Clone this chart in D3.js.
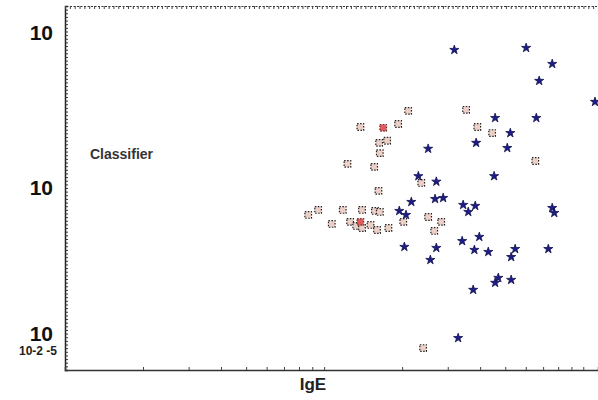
<!DOCTYPE html>
<html>
<head>
<meta charset="utf-8">
<script src="https://cdn.jsdelivr.net/npm/d3@7"></script>
<style>
    body { margin: 0; background: #fff; }
    text { font-family: 'Liberation Sans', Arial, sans-serif; }
</style>
</head>
<body>
<div id="chart"></div>
<script>
// blue class (IgE, classifier value)
const blueX = [31.8, 60.2, 75.9, 67.6, 65.9, 45.7, 52.3, 50.9, 38.6, 25.2, 45.3, 27.1, 23.1, 111,
    21.7, 26.8, 28.8, 19.5, 20.7, 34.4, 36.0, 38.3, 75.9, 77.3, 20.4, 27.1, 25.7, 34.1, 39.7,
    38.0, 43.0, 54.6, 52.7, 73.3, 47.0, 45.7, 52.7, 37.6, 32.9];
const blueY = [7.70, 7.94, 6.21, 4.79, 2.71, 2.71, 2.15, 1.71, 1.85, 1.69, 1.11, 1.02, 1.11, 3.47,
    0.747, 0.782, 0.794, 0.651, 0.612, 0.714, 0.641, 0.703, 0.681, 0.631, 0.375, 0.369, 0.307, 0.410, 0.437,
    0.358, 0.347, 0.363, 0.321, 0.363, 0.233, 0.216, 0.226, 0.194, 0.0926];

// pink class
const pinkX = [21.1, 35.3, 13.8, 19.3, 16.3, 17.5, 16.4, 12.3, 15.6, 39.0, 44.5, 65.3, 23.7, 16.2,
    8.68, 9.48, 10.7, 11.8, 12.6, 14.0, 13.3, 14.0, 15.1, 15.7, 16.4, 16.0, 17.7, 20.2, 25.2,
    28.3, 26.6, 24.1];
const pinkY = [3.02, 3.07, 2.36, 2.47, 1.85, 1.91, 1.58, 1.34, 1.28, 2.36, 2.15, 1.40, 1.0, 0.885,
    0.612, 0.661, 0.533, 0.661, 0.550, 0.661, 0.517, 0.501, 0.525, 0.651, 0.641, 0.486, 0.501, 0.550, 0.593,
    0.550, 0.479, 0.0794];

// highlighted (red) points
const redX = [16.9, 13.8];
const redY = [2.33, 0.550];

const yTickValues = [10, 1, 0.1];
const yTickLabels = ['10', '10', '10'];
const yExtraLabel = '10-2 -5';
const xTitle = 'IgE';
const noteText = 'Classifier';

const width = 598;
const height = 400;
const margin = { top: 6, right: 0, bottom: 30, left: 65 };

const svg = d3
    .select('#chart')
    .append('svg')
    .attr('width', width)
    .attr('height', height);

const x = d3
    .scaleLog()
    .domain([1, 114])
    .range([margin.left, width - margin.right]);

const y = d3
    .scaleLog()
    .domain([15.1, 0.0567])
    .range([margin.top, height - margin.bottom]);

// left axis: dense little ticks
const yDeco = d3.scaleLinear().domain([0, 100]).range([margin.top, height - margin.bottom]);
svg.append('g')
    .attr('transform', `translate(${margin.left},0)`)
    .call(d3.axisRight(yDeco).ticks(100).tickSize(3).tickFormat(''))
    .call((g) => g.select('.domain').attr('stroke', '#222').attr('stroke-width', 1.5))
    .call((g) => g.selectAll('.tick line').attr('stroke', '#333'));

// top border: dotted with small down ticks
const xDeco = d3.scaleLinear().domain([0, 110]).range([margin.left, width]);
svg.append('g')
    .attr('transform', `translate(0,${margin.top})`)
    .call(d3.axisBottom(xDeco).ticks(110).tickSize(3).tickFormat(''))
    .call((g) => g.select('.domain').attr('stroke', '#333').attr('stroke-dasharray', '2,1.5'))
    .call((g) => g.selectAll('.tick line').attr('stroke', '#444'));

// bottom axis
svg.append('g')
    .attr('transform', `translate(0,${height - margin.bottom})`)
    .call(d3.axisTop(x).tickSize(3).tickFormat(''))
    .call((g) => g.select('.domain').attr('stroke', '#333').attr('stroke-width', 1.5))
    .call((g) => g.selectAll('.tick line').attr('stroke', '#444'));

// y labels (middle one sits a bit low in the original)
svg.selectAll('text.ylab')
    .data(yTickValues)
    .enter()
    .append('text')
    .attr('class', 'ylab')
    .attr('x', 53)
    .attr('y', (d) => y(d) + (d === 1 ? 5 : 0))
    .attr('dy', '0.36em')
    .attr('text-anchor', 'end')
    .attr('font-size', 21)
    .attr('font-weight', 'bold')
    .attr('fill', '#111')
    .text((d, i) => yTickLabels[i]);

svg.append('text')
    .attr('x', 57)
    .attr('y', 355)
    .attr('text-anchor', 'end')
    .attr('font-size', 12)
    .attr('font-weight', 'bold')
    .attr('fill', '#222')
    .text(yExtraLabel);

svg.append('text')
    .attr('x', 90)
    .attr('y', 159)
    .attr('font-size', 14)
    .attr('font-weight', 'bold')
    .attr('fill', '#333')
    .text(noteText);

svg.append('text')
    .attr('x', 313)
    .attr('y', 390)
    .attr('text-anchor', 'middle')
    .attr('font-size', 17)
    .attr('font-weight', 'bold')
    .attr('fill', '#222')
    .text(xTitle);

// points
const pink = pinkX.map((v, i) => ({ x: v, y: pinkY[i] }));
const blue = blueX.map((v, i) => ({ x: v, y: blueY[i] }));
const red = redX.map((v, i) => ({ x: v, y: redY[i] }));

svg.append('g')
    .selectAll('path')
    .data(pink)
    .enter()
    .append('path')
    .attr('transform', (d) => `translate(${x(d.x)},${y(d.y)})`)
    .attr('d', d3.symbol().type(d3.symbolSquare).size(44))
    .attr('fill', '#ecd0c8')
    .attr('stroke', '#222')
    .attr('stroke-width', 1.2)
    .attr('stroke-dasharray', '1.5,1.5');

svg.append('g')
    .selectAll('path')
    .data(red)
    .enter()
    .append('path')
    .attr('transform', (d) => `translate(${x(d.x)},${y(d.y)})`)
    .attr('d', d3.symbol().type(d3.symbolSquare).size(44))
    .attr('fill', '#e25a5a')
    .attr('stroke', '#633')
    .attr('stroke-width', 1.2)
    .attr('stroke-dasharray', '1.5,1.5');

svg.append('g')
    .selectAll('path')
    .data(blue)
    .enter()
    .append('path')
    .attr('transform', (d) => `translate(${x(d.x)},${y(d.y)})`)
    .attr('d', d3.symbol().type(d3.symbolStar).size(26))
    .attr('fill', '#1c1c8c')
    .attr('stroke', '#10104a')
    .attr('stroke-width', 0.8);
</script>
</body>
</html>
